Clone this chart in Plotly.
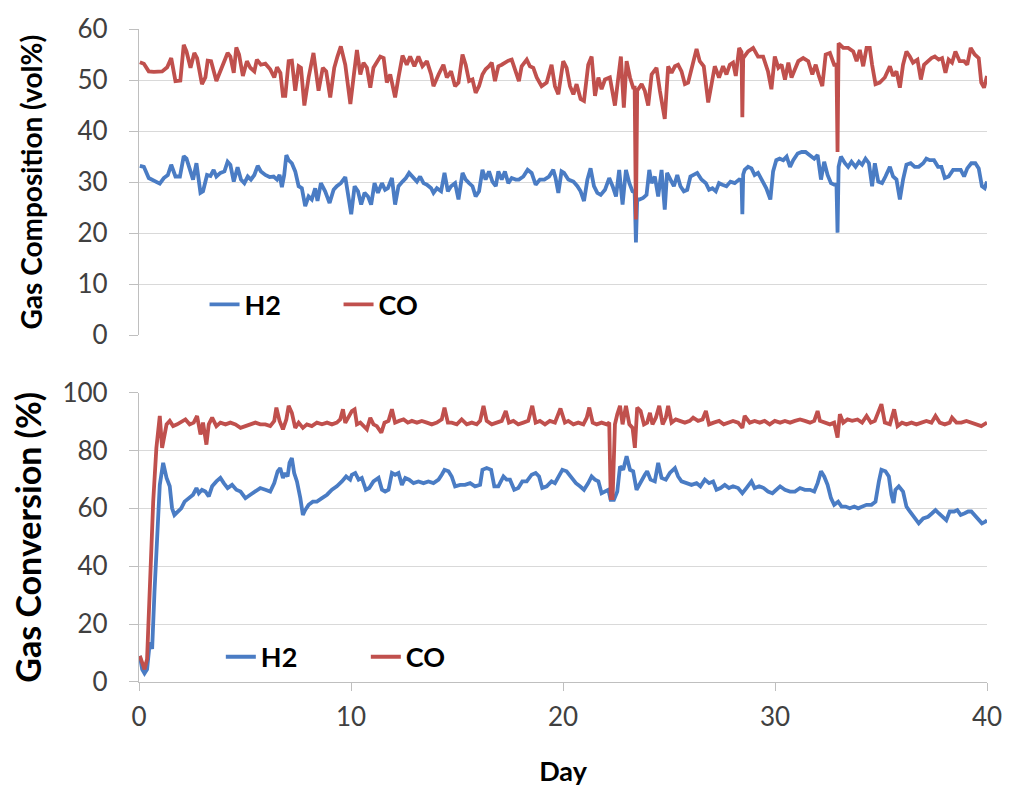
import plotly.graph_objects as go

# ---------------- data ----------------
# Top panel: gas composition (vol%)
comp_co_day = [0.04,0.23,0.46,0.70,1.09,1.33,1.52,1.72,1.95,2.11,2.24,2.43,2.61,2.74,2.97,3.13,3.24,3.40,3.65,3.84,
               4.03,4.18,4.31,4.47,4.59,4.72,4.90,5.09,5.25,5.44,5.56,5.75,5.96,6.19,6.38,6.51,6.67,6.79,6.90,7.06,
               7.21,7.37,7.53,7.64,7.80,8.00,8.23,8.47,8.67,8.83,9.02,9.21,9.36,9.52,9.73,9.97,10.12,10.28,10.44,10.59,
               10.75,10.91,11.06,11.22,11.38,11.54,11.69,11.85,12.08,12.24,12.43,12.63,12.79,12.99,13.18,13.37,13.58,13.78,13.89,14.13,
               14.36,14.52,14.72,14.91,15.07,15.26,15.41,15.57,15.73,15.88,16.04,16.20,16.35,16.51,16.64,16.79,16.95,17.11,17.26,17.42,
               17.58,17.77,17.92,18.05,18.29,18.44,18.60,18.76,18.99,19.23,19.46,19.62,19.78,20.01,20.17,20.33,20.49,20.64,20.83,20.99,
               21.19,21.35,21.51,21.67,21.82,21.98,22.21,22.45,22.61,22.73,22.87,23.00,23.16,23.31,23.38,23.44,23.50,23.71,23.86,24.02,
               24.18,24.41,24.57,24.80,24.96,25.12,25.28,25.43,25.59,25.75,25.90,26.14,26.30,26.45,26.64,26.85,27.00,27.16,27.36,27.55,
               27.71,27.87,28.02,28.15,28.31,28.42,28.46,28.50,28.73,28.97,29.20,29.44,29.67,29.83,29.99,30.16,30.31,30.47,30.63,30.78,
               30.94,31.10,31.33,31.57,31.76,31.92,32.07,32.23,32.39,32.59,32.79,32.90,32.95,33.00,33.22,33.45,33.69,33.85,34.00,34.16,
               34.32,34.47,34.58,34.74,34.94,35.18,35.42,35.57,35.73,35.89,36.04,36.20,36.36,36.51,36.72,36.88,37.03,37.22,37.38,37.54,
               37.72,37.88,38.04,38.19,38.35,38.51,38.71,38.92,39.07,39.23,39.42,39.61,39.73,39.86,40.00]
comp_co_val = [53.5,53.2,51.7,51.6,51.7,52.5,54.3,49.8,49.9,56.9,55.6,52.4,55.3,54.3,49.2,50.5,53.8,53.7,49.8,51.7,
               54.0,55.3,54.6,51.4,56.4,55.0,50.8,53.7,52.4,51.7,54.0,53.0,53.2,52.1,50.5,52.5,51.4,46.9,46.9,53.7,
               53.8,47.9,52.7,52.4,45.0,50.5,55.3,47.9,52.4,51.7,46.6,52.4,54.6,56.6,53.0,45.3,50.5,55.9,51.1,53.4,
               52.4,48.5,52.4,53.7,54.6,54.3,49.5,51.1,46.6,50.5,54.8,53.0,54.6,52.7,54.6,52.7,53.7,51.1,48.8,51.1,
               53.0,50.5,51.7,48.8,49.5,55.0,53.0,49.8,50.1,47.5,48.8,51.1,52.1,52.7,53.4,49.8,52.7,53.0,53.4,53.8,
               54.0,51.7,49.8,52.7,54.0,52.7,52.4,50.5,48.8,49.5,53.0,48.8,47.2,53.7,52.4,48.8,47.2,49.2,46.3,45.9,
               53.0,54.6,46.9,50.5,48.2,50.1,50.5,45.0,50.5,54.6,44.6,53.7,50.5,48.5,48.5,22.7,47.9,49.2,47.9,45.0,
               51.1,52.4,47.9,42.4,52.7,51.4,52.7,53.0,51.7,49.2,49.5,53.7,56.1,53.7,52.7,45.6,49.2,52.7,50.5,52.7,
               51.1,53.0,53.4,50.8,56.3,55.5,42.7,54.3,55.6,56.3,54.6,54.6,51.7,48.2,54.6,52.4,53.0,50.1,53.4,50.5,
               52.1,53.7,54.3,53.7,51.1,53.0,50.8,48.8,55.0,55.3,53.0,53.0,35.9,57.2,56.3,56.3,55.6,53.7,55.9,52.7,
               56.3,56.3,53.0,49.2,49.5,50.5,52.7,50.8,51.7,48.5,53.0,55.6,54.6,53.4,54.0,50.1,53.0,53.7,54.3,54.6,
               54.0,54.3,51.4,54.0,53.4,55.6,53.7,53.7,53.0,56.3,55.0,54.3,49.5,48.5,50.8]

comp_h2_day = [0.04,0.23,0.46,0.70,0.98,1.17,1.36,1.52,1.72,1.93,2.11,2.24,2.39,2.55,2.71,2.90,3.02,3.21,3.37,3.52,
               3.65,3.84,4.03,4.18,4.31,4.47,4.65,4.81,4.97,5.13,5.28,5.44,5.60,5.75,5.96,6.16,6.35,6.51,6.63,6.74,
               6.85,6.95,7.06,7.21,7.37,7.53,7.68,7.84,8.00,8.15,8.31,8.42,8.58,8.78,8.99,9.18,9.33,9.52,9.73,9.89,
               10.01,10.17,10.33,10.48,10.64,10.80,10.95,11.11,11.27,11.46,11.61,11.74,11.93,12.08,12.24,12.43,12.59,12.74,12.95,13.11,
               13.26,13.42,13.58,13.78,13.89,14.05,14.25,14.41,14.57,14.72,14.91,15.07,15.26,15.41,15.57,15.73,15.88,16.04,16.20,16.35,
               16.51,16.67,16.83,16.95,17.11,17.26,17.42,17.58,17.77,17.92,18.13,18.33,18.52,18.71,18.91,19.12,19.34,19.54,19.65,19.78,
               19.93,20.05,20.25,20.49,20.68,20.83,20.99,21.15,21.30,21.46,21.62,21.78,21.98,22.18,22.34,22.50,22.65,22.81,22.97,23.13,
               23.28,23.38,23.44,23.50,23.60,23.78,23.94,24.07,24.18,24.33,24.49,24.65,24.80,24.91,25.07,25.23,25.39,25.54,25.70,25.86,
               26.01,26.17,26.33,26.53,26.74,26.89,27.05,27.21,27.36,27.52,27.71,27.90,28.10,28.31,28.42,28.46,28.50,28.57,28.73,28.89,
               29.04,29.20,29.36,29.59,29.78,29.91,30.06,30.22,30.39,30.55,30.71,30.86,31.07,31.26,31.44,31.65,31.85,32.01,32.17,32.32,
               32.48,32.64,32.79,32.90,32.95,33.00,33.11,33.30,33.45,33.61,33.80,33.96,34.11,34.27,34.43,34.58,34.71,34.87,35.05,35.21,
               35.42,35.57,35.73,35.89,36.04,36.20,36.40,36.59,36.78,36.99,37.14,37.30,37.50,37.69,37.85,38.01,38.19,38.40,38.60,38.76,
               38.92,39.07,39.26,39.45,39.61,39.76,39.89,40.00]
comp_h2_val = [33.2,33.0,30.8,30.3,29.7,30.8,31.4,33.4,31.1,31.1,35.1,34.6,32.4,30.5,33.7,27.9,28.2,31.4,31.2,32.4,
               31.1,31.8,32.1,34.0,33.4,30.1,32.9,30.5,29.8,31.1,30.5,31.4,33.2,32.1,31.4,31.0,31.1,30.5,31.4,29.0,
               31.4,35.3,34.3,33.7,32.1,29.2,28.8,25.3,27.2,26.6,28.8,26.3,29.8,28.2,25.9,28.5,29.2,29.8,31.0,27.2,
               23.7,29.2,28.2,25.6,27.9,27.2,25.6,29.8,27.9,29.8,28.5,28.8,30.8,25.6,29.2,30.1,30.8,31.8,30.8,30.1,
               31.1,29.8,29.5,28.8,27.9,28.8,28.2,31.8,28.2,29.2,29.8,26.6,31.8,30.5,29.8,29.2,27.2,28.2,32.4,30.5,
               32.1,30.1,29.2,32.1,30.5,32.1,29.8,30.8,30.5,30.5,31.1,32.4,31.8,29.5,30.5,30.5,31.1,32.4,30.8,27.9,
               32.1,31.8,30.5,30.1,29.2,28.2,26.3,30.5,32.7,29.2,27.9,27.5,28.5,30.8,29.2,27.2,32.4,25.6,32.4,29.8,
               28.2,28.0,18.2,26.6,26.6,26.9,27.5,32.4,29.8,31.1,27.2,32.4,24.6,31.8,30.5,29.2,31.4,29.2,28.2,28.5,
               31.1,31.4,31.8,30.5,29.8,28.5,28.8,28.2,29.8,29.5,29.2,30.1,29.8,30.5,30.4,23.7,31.5,32.4,33.0,32.7,
               31.4,31.8,30.5,28.8,26.6,32.1,34.3,34.6,34.3,35.0,33.0,34.3,35.6,35.9,35.9,35.3,34.6,35.3,30.5,34.0,
               31.4,29.8,29.5,29.5,20.1,33.0,35.0,33.7,33.0,34.0,33.0,34.0,33.4,34.6,33.7,29.2,33.7,30.1,29.8,31.1,
               33.0,31.1,30.5,26.6,30.5,33.4,33.7,33.0,33.0,33.7,34.6,34.3,34.3,33.0,33.0,30.8,31.1,32.4,32.4,32.4,
               31.1,32.7,33.7,33.7,32.7,29.2,28.8,30.1]

# Bottom panel: gas conversion (%)
conv_co_day = [0.04,0.15,0.26,0.38,0.54,0.67,0.82,0.98,1.09,1.17,1.30,1.45,1.61,1.80,2.03,2.19,2.39,2.58,2.74,2.90,
               3.02,3.18,3.29,3.45,3.65,3.84,4.08,4.31,4.55,4.79,5.02,5.25,5.49,5.72,5.96,6.19,6.38,6.48,6.63,6.79,
               6.95,7.06,7.21,7.37,7.53,7.73,7.92,8.15,8.39,8.63,8.87,9.10,9.33,9.49,9.62,9.73,9.89,10.04,10.17,10.28,
               10.44,10.59,10.75,10.91,11.06,11.22,11.43,11.58,11.77,11.93,12.08,12.27,12.48,12.68,12.87,13.11,13.34,13.58,13.81,14.05,
               14.28,14.41,14.57,14.75,14.99,15.22,15.46,15.70,15.93,16.09,16.25,16.40,16.64,16.87,17.11,17.30,17.45,17.66,17.89,18.13,
               18.36,18.55,18.71,18.91,19.15,19.38,19.62,19.88,20.09,20.25,20.49,20.72,20.96,21.12,21.24,21.40,21.59,21.82,22.06,22.18,
               22.25,22.34,22.45,22.56,22.69,22.81,22.97,23.13,23.28,23.39,23.50,23.66,23.82,23.97,24.10,24.22,24.38,24.54,24.70,24.85,
               24.96,25.12,25.32,25.51,25.75,25.98,26.14,26.37,26.58,26.74,26.89,27.11,27.36,27.58,27.79,28.02,28.26,28.46,28.57,28.81,
               29.04,29.28,29.51,29.75,29.99,30.24,30.47,30.71,30.94,31.18,31.41,31.65,31.85,32.01,32.12,32.35,32.59,32.79,32.95,33.06,
               33.22,33.42,33.64,33.89,34.11,34.32,34.52,34.71,34.90,35.02,35.18,35.42,35.62,35.78,35.99,36.20,36.44,36.67,36.91,37.14,
               37.38,37.57,37.77,38.01,38.24,38.35,38.56,38.79,39.03,39.26,39.50,39.73,40.00]
conv_co_val = [9.0,6.1,4.4,7.9,36.8,62.3,80.9,91.9,80.9,84.4,89.0,90.2,88.4,89.0,90.2,90.7,89.0,89.6,91.9,85.5,
               89.6,82.0,89.0,91.3,88.4,89.6,89.0,89.6,89.0,87.8,88.4,89.0,89.6,89.0,89.0,88.4,90.2,94.8,90.2,87.3,
               90.7,95.4,93.0,87.8,89.6,87.8,89.0,88.4,89.6,89.0,89.6,89.0,89.6,90.7,94.2,89.5,91.9,93.6,94.2,89.0,
               89.6,88.4,87.3,91.3,89.0,88.4,86.1,89.6,90.2,94.2,89.6,90.2,90.7,89.6,90.2,89.6,90.2,89.6,89.0,89.6,
               90.7,94.8,89.6,89.6,89.0,90.7,89.0,89.6,89.0,90.2,95.4,90.2,89.0,89.6,90.2,93.6,89.6,90.2,89.0,89.6,
               90.2,95.4,89.6,90.2,89.0,90.2,89.6,94.5,89.6,90.2,89.0,89.6,89.0,91.3,94.8,89.6,89.0,89.6,89.0,89.6,
               63.5,63.5,89.0,92.5,95.4,89.0,95.4,89.0,87.8,80.9,94.8,93.6,89.0,89.6,93.0,89.0,91.3,95.4,89.0,91.3,
               95.4,89.6,90.7,90.2,89.6,90.2,91.3,90.2,90.7,93.6,89.0,89.6,90.2,89.0,89.6,90.2,89.6,87.8,91.9,89.6,
               90.2,89.6,90.2,89.0,90.2,89.6,90.2,89.6,90.2,90.7,90.2,89.6,90.2,93.6,90.2,89.6,89.0,89.6,84.4,92.5,
               89.6,90.7,90.2,90.7,89.6,91.9,89.6,90.2,93.6,96.0,89.6,89.0,94.2,88.4,89.6,89.0,89.6,89.0,89.6,90.2,
               89.6,91.9,89.6,89.0,89.6,91.3,89.6,89.6,90.2,89.6,89.0,88.4,89.6]

conv_h2_day = [0.04,0.15,0.26,0.38,0.51,0.62,0.73,0.86,0.98,1.14,1.30,1.45,1.56,1.67,1.83,1.99,2.15,2.35,2.55,2.71,
               2.82,2.97,3.13,3.29,3.45,3.65,3.84,4.00,4.18,4.39,4.59,4.79,5.02,5.25,5.49,5.72,5.96,6.19,6.38,6.54,
               6.66,6.79,6.90,7.01,7.10,7.21,7.32,7.45,7.61,7.73,7.84,8.00,8.20,8.39,8.63,8.87,9.10,9.33,9.57,9.77,
               9.96,10.04,10.20,10.36,10.51,10.70,10.86,11.06,11.30,11.46,11.61,11.77,11.93,12.08,12.24,12.40,12.56,12.74,12.95,13.18,
               13.42,13.65,13.89,14.13,14.28,14.41,14.60,14.75,14.91,15.15,15.38,15.62,15.85,16.09,16.20,16.40,16.61,16.76,16.95,17.19,
               17.34,17.50,17.70,17.89,18.08,18.29,18.52,18.71,18.87,19.02,19.23,19.46,19.62,19.81,19.97,20.17,20.41,20.61,20.80,20.99,
               21.19,21.35,21.51,21.67,21.82,21.98,22.14,22.25,22.40,22.56,22.69,22.84,23.00,23.16,23.31,23.47,23.66,23.86,23.97,24.13,
               24.33,24.49,24.65,24.85,25.04,25.28,25.43,25.59,25.83,26.06,26.30,26.48,26.69,26.89,27.08,27.24,27.43,27.63,27.83,28.02,
               28.26,28.46,28.65,28.89,29.04,29.25,29.47,29.67,29.88,30.09,30.24,30.47,30.71,30.94,31.18,31.41,31.65,31.85,32.01,32.17,
               32.32,32.48,32.64,32.79,32.98,33.14,33.33,33.53,33.74,33.92,34.11,34.32,34.55,34.74,34.90,35.02,35.21,35.37,35.49,35.59,
               35.68,35.84,36.04,36.20,36.36,36.56,36.78,36.99,37.22,37.41,37.57,37.72,37.93,38.08,38.24,38.45,38.60,38.76,38.95,39.11,
               39.26,39.42,39.61,39.76,39.92,40.00]
conv_h2_val = [9.0,4.4,3.0,4.4,13.7,11.4,31.1,51.9,68.1,75.7,70.5,67.6,60.0,57.7,58.9,60.0,62.3,63.5,64.7,67.0,
               65.2,66.4,65.8,64.1,67.6,69.3,70.5,68.7,67.0,68.1,66.4,65.8,63.5,64.7,65.8,67.0,66.4,65.8,68.7,72.8,
               73.9,70.5,72.2,71.0,75.7,77.4,72.2,69.3,63.5,57.7,59.4,61.2,62.3,62.3,63.5,64.7,66.4,67.6,69.3,71.0,
               69.9,71.6,72.2,69.9,70.5,66.4,67.0,69.3,70.5,66.4,65.8,66.4,72.2,71.6,72.2,68.1,70.5,69.9,68.7,69.3,
               68.7,69.3,68.7,69.9,71.6,73.3,72.8,71.0,67.6,68.1,68.1,68.7,67.6,68.1,73.3,73.9,73.3,67.6,67.6,71.0,
               69.9,69.9,66.4,67.0,69.3,69.3,71.6,72.2,71.0,67.0,67.6,69.3,68.7,71.6,73.3,72.8,70.5,68.7,67.6,66.4,
               68.7,71.0,69.9,69.3,65.2,65.8,66.4,62.9,62.9,65.8,74.5,73.3,78.0,73.3,72.8,66.4,69.3,71.6,72.8,69.9,
               69.3,75.7,70.5,69.9,72.2,73.9,71.0,69.3,68.7,68.1,68.7,67.6,69.9,68.7,69.3,66.4,67.0,68.1,67.0,67.6,
               67.0,65.2,67.0,69.3,67.0,67.6,67.0,65.8,65.2,66.4,67.6,66.4,65.8,65.8,67.0,66.4,66.4,65.8,68.7,72.8,
               71.0,68.1,63.5,61.2,62.3,60.6,60.6,60.0,60.6,60.0,60.6,61.2,61.2,62.3,69.3,73.3,72.8,71.0,64.7,61.8,
               66.4,67.6,65.8,60.6,58.9,57.1,54.8,56.5,57.1,58.3,59.4,58.3,57.1,55.9,58.9,58.9,59.4,57.7,58.3,58.9,
               58.9,57.7,55.9,54.8,55.4,55.9]

comp_ticks = [0, 10, 20, 30, 40, 50, 60]
conv_ticks = [0, 20, 40, 60, 80, 100]
day_ticks = [0, 10, 20, 30, 40]

# ---------------- styling ----------------
BLUE = "#4A7CC4"
RED = "#C0504D"
GRID = "#D9D9D9"
AXIS = "#BFBFBF"
FONT = "Lato"
LW = 3.8

fig = go.Figure()
fig.add_trace(go.Scatter(x=comp_h2_day, y=comp_h2_val, mode="lines", name="H2",
                         line=dict(color=BLUE, width=LW), xaxis="x2", yaxis="y2", legend="legend"))
fig.add_trace(go.Scatter(x=comp_co_day, y=comp_co_val, mode="lines", name="CO",
                         line=dict(color=RED, width=LW), xaxis="x2", yaxis="y2", legend="legend"))
fig.add_trace(go.Scatter(x=conv_h2_day, y=conv_h2_val, mode="lines", name="H2",
                         line=dict(color=BLUE, width=LW), xaxis="x", yaxis="y", legend="legend2"))
fig.add_trace(go.Scatter(x=conv_co_day, y=conv_co_val, mode="lines", name="CO",
                         line=dict(color=RED, width=LW), xaxis="x", yaxis="y", legend="legend2"))

tick_font = dict(family=FONT, size=26, color="#404040")
yaxis_common = dict(showline=True, linecolor=AXIS, linewidth=1.3, ticks="outside", ticklen=9,
                    tickcolor=AXIS, tickwidth=1.3, showgrid=True, gridcolor=GRID, gridwidth=1.3,
                    zeroline=False, tickfont=tick_font, ticklabelstandoff=16)

legend_font = dict(family=FONT, size=27, weight="bold", color="#000")

fig.update_layout(
    width=1015, height=793,
    margin=dict(l=139, r=28, t=23, b=109),
    paper_bgcolor="white", plot_bgcolor="white",
    font=dict(family=FONT, color="#000000"),
    xaxis=dict(domain=[0, 1], anchor="y", range=[0, 40], tickvals=day_ticks,
               showline=True, linecolor=AXIS, linewidth=1.3, ticks="outside", ticklen=8,
               tickcolor=AXIS, tickwidth=1.3, showgrid=False, zeroline=False, tickfont=tick_font,
               ticklabelstandoff=4,
               title=dict(text="Day", font=dict(family=FONT, size=27, weight="bold", color="#000"), standoff=30)),
    xaxis2=dict(domain=[0, 1], anchor="y2", range=[0, 40], matches="x", showticklabels=False,
                showline=False, showgrid=False, zeroline=False, ticks=""),
    yaxis=dict(domain=[0, 0.4433], anchor="x", range=[0, 100], tickvals=conv_ticks,
               title=dict(text="Gas Conversion (%)", font=dict(family=FONT, size=34, weight="bold", color="#000"), standoff=10),
               **yaxis_common),
    yaxis2=dict(domain=[0.531, 1], anchor="x2", range=[0, 60], tickvals=comp_ticks,
                title=dict(text="Gas Composition (vol%)", font=dict(family=FONT, size=28, weight="bold", color="#000"), standoff=26),
                **yaxis_common),
    legend=dict(orientation="h", x=0.0773, y=0.5775, xanchor="left", yanchor="middle",
                bgcolor="rgba(0,0,0,0)", entrywidth=89, entrywidthmode="pixels", font=legend_font),
    legend2=dict(orientation="h", x=0.0965, y=0.038, xanchor="left", yanchor="middle",
                 bgcolor="rgba(0,0,0,0)", entrywidth=100, entrywidthmode="pixels", font=legend_font),
    showlegend=True,
)

fig.write_html("out.html", config={"displayModeBar": False},
               post_script="document.body.style.margin='0';")
